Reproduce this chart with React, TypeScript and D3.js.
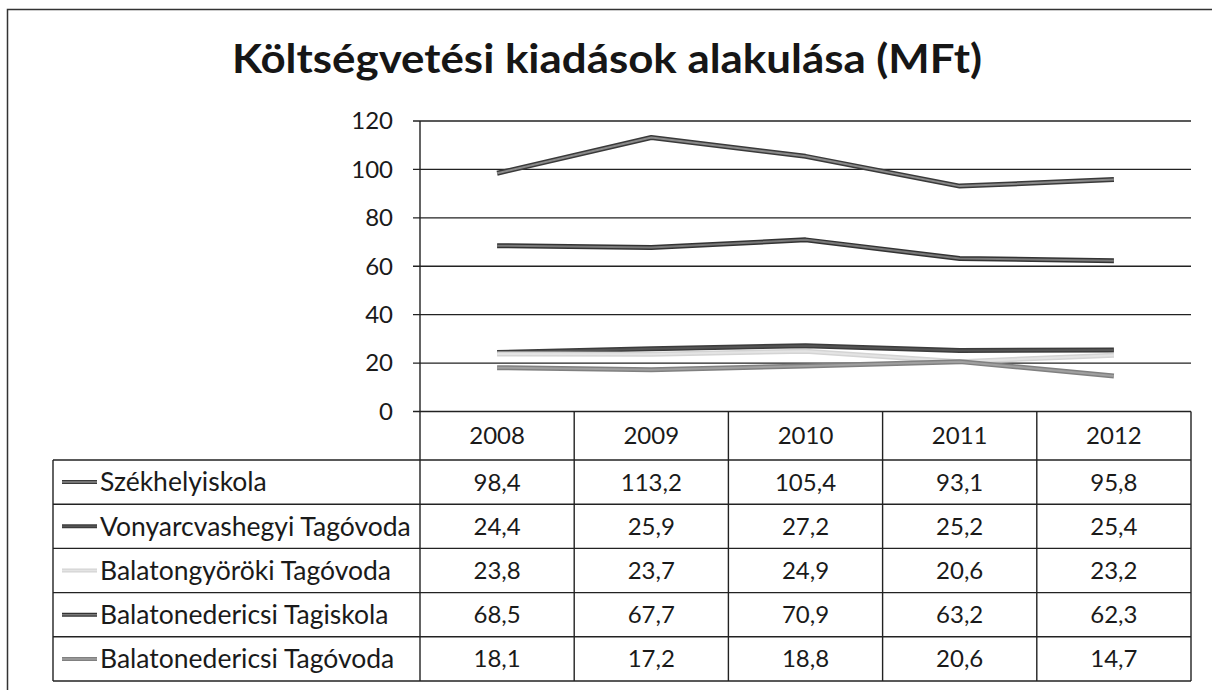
import * as d3 from "d3";

const years = ["2008", "2009", "2010", "2011", "2012"];
const seriesNames = [
  "Székhelyiskola",
  "Vonyarcvashegyi Tagóvoda",
  "Balatongyöröki Tagóvoda",
  "Balatonedericsi Tagiskola",
  "Balatonedericsi Tagóvoda",
];
const szekhely = [98.4, 113.2, 105.4, 93.1, 95.8];
const vonyarc = [24.4, 25.9, 27.2, 25.2, 25.4];
const gyorok = [23.8, 23.7, 24.9, 20.6, 23.2];
const edericsIskola = [68.5, 67.7, 70.9, 63.2, 62.3];
const edericsOvoda = [18.1, 17.2, 18.8, 20.6, 14.7];
const yTicks = [0, 20, 40, 60, 80, 100, 120];

// outer = dark edge, inner = lighter core (scanned look)
const styles = [
  { outer: "#3a3a3a", inner: "#8a8a8a" },
  { outer: "#3c3c3c", inner: "#555555" },
  { outer: "#d4d4d4", inner: "#e4e4e4" },
  { outer: "#333333", inner: "#7a7a7a" },
  { outer: "#808080", inner: "#a0a0a0" },
];

const W = 1212;
const H = 690;
const FONT = "Lato, 'Open Sans', sans-serif";
const FS = 24;
const NAME_FS = 26.5;

const App = () => {
  const allSeries = [szekhely, vonyarc, gyorok, edericsIskola, edericsOvoda];

  const x = d3.scaleBand<string>().domain(years).range([420, 1191]);
  const y = d3.scaleLinear().domain([0, 120]).range([411.5, 121]);

  const line = d3
    .line<number>()
    .x((_, i) => (x(years[i]) as number) + x.bandwidth() / 2)
    .y((d) => y(d));

  const tableLeft = 53;
  const headerBottom = 460;
  const rowH = (681 - headerBottom) / seriesNames.length;
  const tableRight = x.range()[1];
  const fmt = (v: number) => v.toFixed(1).replace(".", ",");

  return (
    <svg
      width={W}
      height={H}
      style={{ position: "absolute", left: 0, top: 0, background: "#fff" }}
      fontFamily={FONT}
    >
      {/* chart frame */}
      <path d={`M7.5,${H} V9.5 H${W}`} fill="none" stroke="#333" strokeWidth={1.5} />

      <text
        x={607}
        y={73}
        textAnchor="middle"
        fontSize={40}
        fontWeight="bold"
        fill="#161616"
        textLength={750}
        lengthAdjust="spacingAndGlyphs"
      >
        Költségvetési kiadások alakulása (MFt)
      </text>

      {/* gridlines and y labels */}
      {yTicks.map((t) => (
        <g key={t}>
          <line x1={413} x2={tableRight} y1={y(t)} y2={y(t)} stroke="#222" strokeWidth={1.4} />
          <text x={393} y={y(t)} dy="0.35em" textAnchor="end" fontSize={FS} fill="#1a1a1a">
            {t}
          </text>
        </g>
      ))}

      {/* value axis */}
      <line x1={420} x2={420} y1={y(120)} y2={y(0)} stroke="#222" strokeWidth={1.4} />

      {/* series lines */}
      {allSeries.map((s, i) => (
        <g key={seriesNames[i]}>
          <path d={line(s) ?? ""} fill="none" stroke={styles[i].outer} strokeWidth={5} strokeLinejoin="round" />
          <path d={line(s) ?? ""} fill="none" stroke={styles[i].inner} strokeWidth={2} strokeLinejoin="round" />
        </g>
      ))}

      {/* data table: header */}
      {years.map((yr) => (
        <text
          key={yr}
          x={(x(yr) as number) + x.bandwidth() / 2}
          y={(y(0) + headerBottom) / 2}
          dy="0.35em"
          textAnchor="middle"
          fontSize={FS}
          fill="#1a1a1a"
        >
          {yr}
        </text>
      ))}
      {/* column dividers */}
      {[...years.map((yr) => x(yr) as number), tableRight].map((cx, i) => (
        <line
          key={i}
          x1={cx}
          x2={cx}
          y1={y(0)}
          y2={headerBottom + rowH * seriesNames.length}
          stroke="#222"
          strokeWidth={1.4}
        />
      ))}
      {/* row lines */}
      {d3.range(seriesNames.length + 1).map((r) => (
        <line
          key={r}
          x1={tableLeft}
          x2={tableRight}
          y1={headerBottom + r * rowH}
          y2={headerBottom + r * rowH}
          stroke="#222"
          strokeWidth={1.4}
        />
      ))}
      <line
        x1={tableLeft}
        x2={tableLeft}
        y1={headerBottom}
        y2={headerBottom + rowH * seriesNames.length}
        stroke="#222"
        strokeWidth={1.4}
      />

      {/* rows */}
      {seriesNames.map((name, i) => {
        const cy = headerBottom + rowH * (i + 0.5);
        return (
          <g key={name}>
            <line x1={62} x2={97} y1={cy} y2={cy} stroke={styles[i].outer} strokeWidth={4} />
            <line x1={62} x2={97} y1={cy} y2={cy} stroke={styles[i].inner} strokeWidth={1.5} />
            <text x={100} y={cy} dy="0.35em" fontSize={NAME_FS} fill="#1a1a1a">
              {name}
            </text>
            {allSeries[i].map((v, j) => (
              <text
                key={j}
                x={(x(years[j]) as number) + x.bandwidth() / 2}
                y={cy}
                dy="0.35em"
                textAnchor="middle"
                fontSize={FS}
                fill="#1a1a1a"
              >
                {fmt(v)}
              </text>
            ))}
          </g>
        );
      })}
    </svg>
  );
};

export default App;
